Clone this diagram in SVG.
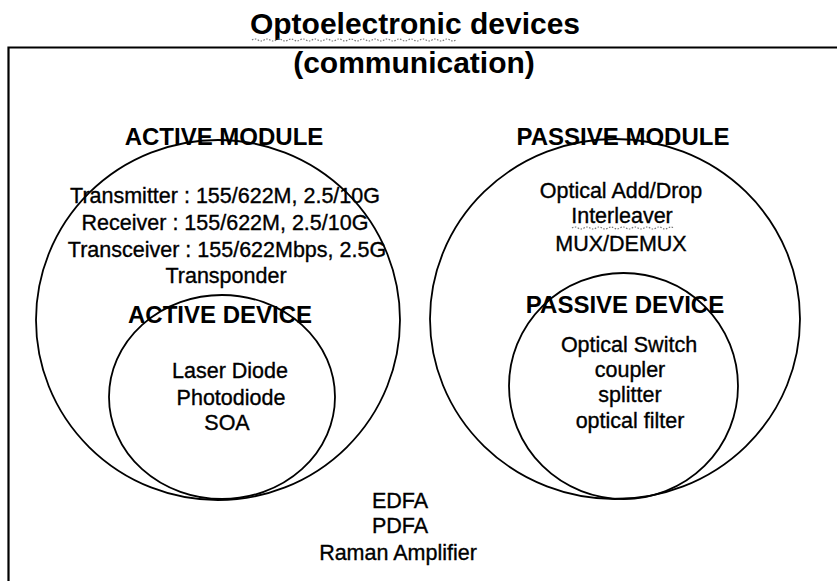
<svg xmlns="http://www.w3.org/2000/svg" width="837" height="581" viewBox="0 0 837 581">
  <style>
    text { font-family: "Liberation Sans", Arial, sans-serif; fill: #000; text-anchor: middle; }
    .title { font-size: 30px; font-weight: bold; }
    .head { font-size: 24px; font-weight: bold; }
    .body { font-size: 21.5px; stroke: #000; stroke-width: 0.35px; }
    .ring { fill: none; stroke: #000; stroke-width: 1.8; }
    .frame { fill: none; stroke: #000; stroke-width: 2.2; }
    .squiggle { fill: none; stroke: #777; stroke-width: 1.2; stroke-dasharray: 1.5 1.5; }
  </style>
  <rect width="837" height="581" fill="#fff"/>

  <g id="frame">
    <path class="frame" d="M837 47.5 H8.5 V581"/>
  </g>

  <g id="title">
    <text class="title" x="415" y="34">Optoelectronic devices</text>
    <path class="squiggle" d="M252 40 q3 -2 6 0 t6 0 t6 0 t6 0 t6 0 t6 0 t6 0 t6 0 t6 0 t6 0 t6 0 t6 0 t6 0 t6 0 t6 0 t6 0 t6 0 t6 0 t6 0 t6 0 t6 0 t6 0 t6 0 t6 0 t6 0 t6 0 t6 0 t6 0 t6 0 t6 0 t6 0 t6 0 t6 0 t6 0"/>
    <text class="title" x="414" y="73">(communication)</text>
  </g>

  <g id="active-module">
    <ellipse class="ring" cx="218" cy="320" rx="182" ry="180"/>
    <text class="head" x="224" y="145">ACTIVE MODULE</text>
    <text class="body" x="225" y="203">Transmitter : 155/622M, 2.5/10G</text>
    <text class="body" x="225" y="230">Receiver : 155/622M, 2.5/10G</text>
    <text class="body" x="227" y="257">Transceiver : 155/622Mbps, 2.5G</text>
    <text class="body" x="226" y="283">Transponder</text>
  </g>

  <g id="active-device">
    <ellipse class="ring" cx="222" cy="397" rx="113" ry="102"/>
    <text class="head" x="220" y="323">ACTIVE DEVICE</text>
    <text class="body" x="230" y="378">Laser Diode</text>
    <text class="body" x="231" y="405">Photodiode</text>
    <text class="body" x="227" y="430">SOA</text>
  </g>

  <g id="passive-module">
    <ellipse class="ring" cx="615" cy="319" rx="185" ry="180"/>
    <text class="head" x="623" y="145">PASSIVE MODULE</text>
    <text class="body" x="621" y="198">Optical Add/Drop</text>
    <text class="body" x="622" y="223">Interleaver</text>
    <path class="squiggle" d="M572 228 q3 -2 6 0 t6 0 t6 0 t6 0 t6 0 t6 0 t6 0 t6 0 t6 0 t6 0 t6 0 t6 0 t6 0 t6 0 t6 0 t6 0 t6 0"/>
    <text class="body" x="621" y="251">MUX/DEMUX</text>
  </g>

  <g id="passive-device">
    <ellipse class="ring" cx="623.5" cy="386" rx="114.5" ry="113"/>
    <text class="head" x="625" y="313">PASSIVE DEVICE</text>
    <text class="body" x="629" y="352">Optical Switch</text>
    <text class="body" x="630" y="377">coupler</text>
    <text class="body" x="630" y="402">splitter</text>
    <text class="body" x="630" y="428">optical filter</text>
  </g>

  <g id="amplifiers">
    <text class="body" x="400" y="508">EDFA</text>
    <text class="body" x="400" y="533">PDFA</text>
    <text class="body" x="398" y="560">Raman Amplifier</text>
  </g>
</svg>
